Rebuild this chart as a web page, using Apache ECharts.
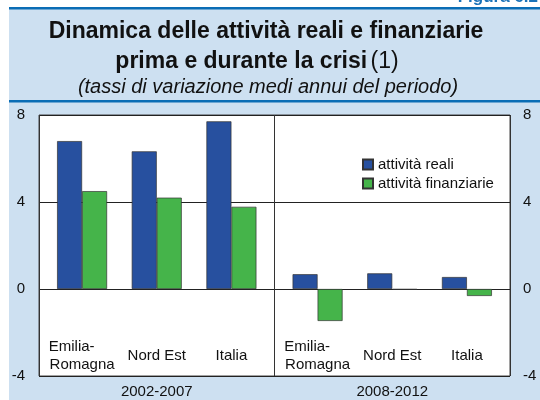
<!DOCTYPE html>
<html>
<head>
<meta charset="utf-8">
<script src="https://cdn.jsdelivr.net/npm/echarts@6/dist/echarts.min.js"></script>
<style>
html,body{margin:0;padding:0;background:#fff;}
#main{width:540px;height:400px;}
</style>
</head>
<body>
<div id="main"></div>
<script>
//dati del grafico
var periodi=['2002-2007','2008-2012'];
var regioni=['Emilia-     \nRomagna','Nord Est','Italia'];
var realiPrima=[6.8,6.33,7.71];
var finanziariePrima=[4.5,4.2,3.78];
var realiCrisi=[0.68,0.72,0.55];
var finanziarieCrisi=[-1.47,-0.03,-0.32];
var yTicks=[-4,0,4,8];

var font='"Liberation Sans", Arial, sans-serif';
var colReali='#27509f';
var colFin='#45b44a';

//asse nascosto per i due pannelli
function hiddenY(idx){
    return {
        gridIndex:idx,type:'value',min:yTicks[0],max:yTicks[yTicks.length-1],interval:4,
        axisLine:{show:false},axisTick:{show:false},axisLabel:{show:false},splitLine:{show:false}
    };
}
function regionAxis(idx){
    return {
        gridIndex:idx,type:'category',data:regioni,position:'bottom',
        axisLine:{show:false,onZero:false},axisTick:{show:false},
        axisLabel:{inside:true,interval:0,margin:20,verticalAlign:'middle',color:'#111',
            fontFamily:font,fontSize:15,lineHeight:18}
    };
}
//pannello 1 -> xAxis 1 / yAxis 2, pannello 2 -> xAxis 2 / yAxis 3
function barSerie(name,color,data,panel){
    return {
        name:name,type:'bar',xAxisIndex:panel,yAxisIndex:panel+1,data:data,
        barWidth:25,barGap:'0%',
        itemStyle:{color:color,borderColor:'#333',borderWidth:0.7}
    };
}

var myChart=echarts.init(document.getElementById('main'),null,{renderer:'canvas'});
var option={
    backgroundColor:'#cde0f1',
    animation:false,
    //cornice e pannelli
    grid:[
        {left:39,top:115,width:471,height:261,show:true,backgroundColor:'#fff',borderColor:'#444',borderWidth:1},
        {left:44.75,top:115,width:224,height:261},
        {left:280.25,top:115,width:224,height:261}
    ],
    xAxis:[
        {gridIndex:0,type:'category',data:periodi,position:'bottom',
            axisLine:{show:false},axisTick:{show:false},
            axisLabel:{margin:8,color:'#111',fontFamily:font,fontSize:15},
            splitLine:{show:true,lineStyle:{color:'#333',width:1}}},
        regionAxis(1),
        regionAxis(2)
    ],
    yAxis:[
        {gridIndex:0,type:'value',min:-4,max:8,interval:4,position:'left',
            axisLine:{show:false},axisTick:{show:false},
            axisLabel:{margin:14,color:'#111',fontFamily:font,fontSize:15},
            splitLine:{show:true,lineStyle:{color:'#222',width:1}}},
        {gridIndex:0,type:'value',min:-4,max:8,interval:4,position:'right',
            axisLine:{show:false},axisTick:{show:false},
            axisLabel:{margin:13,color:'#111',fontFamily:font,fontSize:15},
            splitLine:{show:false}},
        hiddenY(1),
        hiddenY(2)
    ],
    legend:{
        orient:'vertical',left:362,top:157,padding:0,itemWidth:10,itemHeight:10,itemGap:4,
        icon:'rect',
        data:['attività reali','attività finanziarie'],
        textStyle:{color:'#111',fontFamily:font,fontSize:15}
    },
    series:[
        barSerie('attività reali',colReali,realiPrima,1),
        barSerie('attività finanziarie',colFin,finanziariePrima,1),
        barSerie('attività reali',colReali,realiCrisi,2),
        barSerie('attività finanziarie',colFin,finanziarieCrisi,2)
    ],
    //titolo e decorazioni della pagina
    graphic:[
        {type:'rect',shape:{x:0,y:0,width:540,height:7},style:{fill:'#fff'}},
        {type:'rect',shape:{x:0,y:0,width:9,height:400},style:{fill:'#fff'}},
        {type:'rect',shape:{x:9,y:7,width:531,height:2.5},style:{fill:'#0a6db5'}},
        {type:'rect',shape:{x:9,y:100,width:531,height:2.5},style:{fill:'#0a6db5'}},
        {type:'text',x:538,y:6,style:{text:'Figura 6.2',font:'bold 17px '+font,fill:'#1a72b8',
            textAlign:'right',textVerticalAlign:'bottom'}},
        {type:'text',x:266,y:32,style:{text:'Dinamica delle attività reali e finanziarie',
            font:'bold 23px '+font,fill:'#111',textAlign:'center',textVerticalAlign:'middle'}},
        {type:'text',x:257,y:62,style:{text:'{b|prima e durante la crisi} {n|(1)}',
            textAlign:'center',textVerticalAlign:'middle',
            rich:{b:{font:'bold 23px '+font,fill:'#111'},n:{font:'23px '+font,fill:'#111'}}}},
        {type:'text',x:268,y:87,style:{text:'(tassi di variazione medi annui del periodo)',
            font:'italic 20px '+font,fill:'#111',textAlign:'center',textVerticalAlign:'middle'}}
    ]
};
myChart.setOption(option);
</script>
</body>
</html>
